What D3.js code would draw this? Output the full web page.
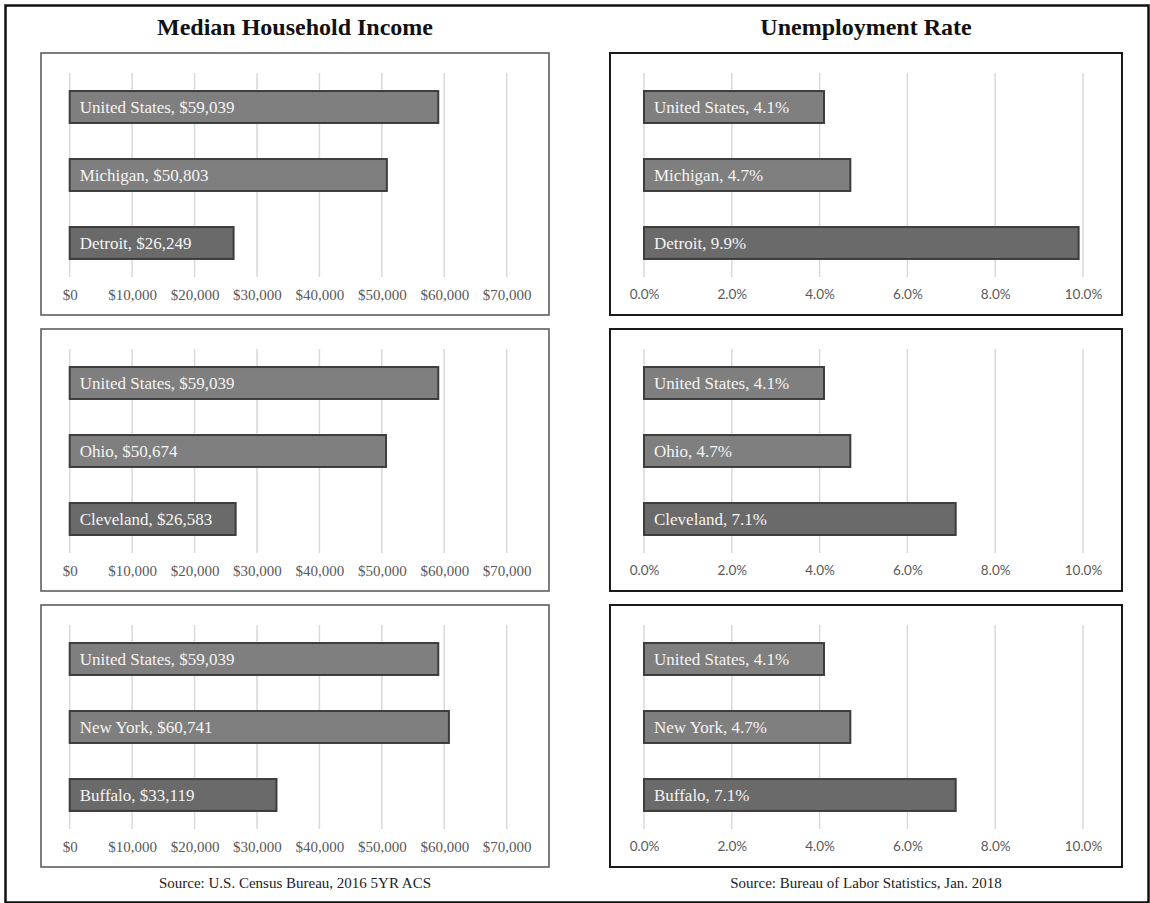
<!DOCTYPE html>
<html>
<head>
<meta charset="utf-8">
<script src="https://cdn.jsdelivr.net/npm/d3@7"></script>
<style>
  html, body { margin: 0; padding: 0; background: #fff; }
  svg { display: block; }
</style>
</head>
<body>
<svg id="chart" width="1150" height="903"></svg>
<script>
// Places compared in each row of panels
const placesRow1 = ["United States", "Michigan", "Detroit"];
const placesRow2 = ["United States", "Ohio", "Cleveland"];
const placesRow3 = ["United States", "New York", "Buffalo"];

// Median household income (USD), 2016 5-year ACS
const incomeRow1 = [59039, 50803, 26249];
const incomeRow2 = [59039, 50674, 26583];
const incomeRow3 = [59039, 60741, 33119];

// Unemployment rate (%), Jan. 2018
const rateRow1 = [4.1, 4.7, 9.9];
const rateRow2 = [4.1, 4.7, 7.1];
const rateRow3 = [4.1, 4.7, 7.1];

// Axis ticks
const incomeTicks = [0, 10000, 20000, 30000, 40000, 50000, 60000, 70000];
const rateTicks = [0, 2, 4, 6, 8, 10];

const titles = ["Median Household Income", "Unemployment Rate"];
const sources = ["Source: U.S. Census Bureau, 2016 5YR ACS", "Source: Bureau of Labor Statistics, Jan. 2018"];

const rows = [
  { places: placesRow1, income: incomeRow1, rate: rateRow1 },
  { places: placesRow2, income: incomeRow2, rate: rateRow2 },
  { places: placesRow3, income: incomeRow3, rate: rateRow3 }
];

const svg = d3.select("#chart");
const serif = "'Liberation Serif', 'Times New Roman', Times, serif";
const sans = "Lato, 'Open Sans', 'Liberation Sans', sans-serif";

// outer frame
svg.append("rect")
  .attr("x", 5.5).attr("y", 5.5)
  .attr("width", 1143).attr("height", 897)
  .attr("fill", "none").attr("stroke", "#111").attr("stroke-width", 2.5);

const columns = [
  {
    key: "income", x: 41, width: 508,
    range: [28.7, 465.7], domain: [0, 70000], ticks: incomeTicks,
    tickFormat: d => "$" + d3.format(",")(d),
    labelFormat: (p, v) => p + ", $" + d3.format(",")(v),
    tickFont: serif, tickSize: "15px",
    border: "#5e5e5e", borderWidth: 1.6
  },
  {
    key: "rate", x: 610, width: 512,
    range: [34, 473], domain: [0, 10], ticks: rateTicks,
    tickFormat: d => d.toFixed(1) + "%",
    labelFormat: (p, v) => p + ", " + v.toFixed(1) + "%",
    tickFont: sans, tickSize: "13.5px",
    border: "#1a1a1a", borderWidth: 2
  }
];

const panelTops = [53, 329, 605];
const panelH = 262;
const barFill = ["#7f7f7f", "#7f7f7f", "#6a6a6a"];

columns.forEach((col, ci) => {
  // column title
  svg.append("text")
    .attr("x", col.x + col.width / 2).attr("y", 35)
    .attr("text-anchor", "middle")
    .attr("font-family", serif).attr("font-weight", "bold")
    .attr("font-size", "24px").attr("fill", "#111")
    .text(titles[ci]);

  // source note
  svg.append("text")
    .attr("x", col.x + col.width / 2).attr("y", 888)
    .attr("text-anchor", "middle")
    .attr("font-family", serif).attr("font-size", "15px").attr("fill", "#222")
    .text(sources[ci]);

  const x = d3.scaleLinear().domain(col.domain).range(col.range);

  rows.forEach((row, ri) => {
    const values = row[col.key];
    const g = svg.append("g")
      .attr("transform", `translate(${col.x},${panelTops[ri]})`);

    const y = d3.scaleBand()
      .domain(row.places)
      .range([20, 224])
      .paddingInner(0.53)
      .paddingOuter(0.265);

    // gridlines
    g.selectAll("line.grid").data(col.ticks).join("line")
      .attr("class", "grid")
      .attr("x1", d => x(d)).attr("x2", d => x(d))
      .attr("y1", 20).attr("y2", 224)
      .attr("stroke", "#d9d9d9").attr("stroke-width", 1.5);

    // bars
    const data = row.places.map((p, i) => ({ place: p, value: values[i], i }));
    g.selectAll("rect.bar").data(data).join("rect")
      .attr("class", "bar")
      .attr("x", x(0))
      .attr("y", d => y(d.place))
      .attr("width", d => x(d.value) - x(0))
      .attr("height", y.bandwidth())
      .attr("fill", d => barFill[d.i])
      .attr("stroke", "#3d3d3d").attr("stroke-width", 2);

    // bar labels
    g.selectAll("text.lbl").data(data).join("text")
      .attr("class", "lbl")
      .attr("x", x(0) + 10)
      .attr("y", d => y(d.place) + y.bandwidth() / 2)
      .attr("dy", "0.35em")
      .attr("font-family", serif).attr("font-size", "17px")
      .attr("fill", "#f4f4f4")
      .text(d => col.labelFormat(d.place, d.value));

    // value axis labels
    const axis = g.append("g")
      .attr("transform", "translate(0,236)")
      .call(d3.axisBottom(x).tickValues(col.ticks).tickFormat(col.tickFormat).tickSize(0).tickPadding(0));
    axis.select(".domain").remove();
    axis.selectAll("text")
      .attr("font-family", col.tickFont).attr("font-size", col.tickSize)
      .attr("fill", "#595959").attr("dy", "0.71em").attr("y", 0);

    // panel frame
    g.append("rect")
      .attr("x", 0).attr("y", 0)
      .attr("width", col.width).attr("height", panelH)
      .attr("fill", "none")
      .attr("stroke", col.border).attr("stroke-width", col.borderWidth);
  });
});
</script>
</body>
</html>
